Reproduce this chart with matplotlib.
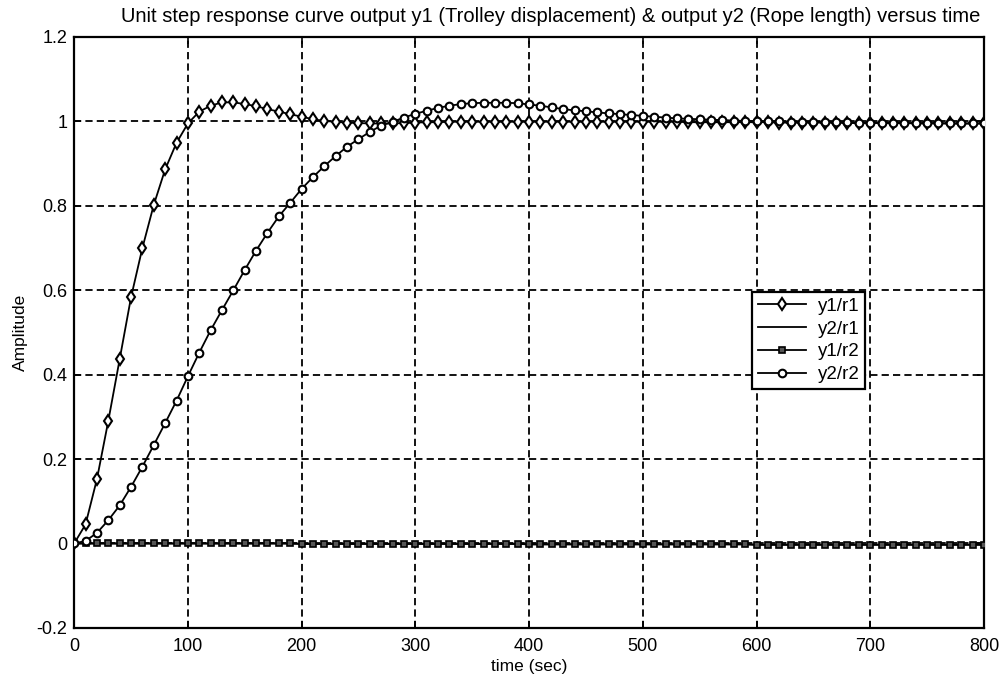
import numpy as np
import matplotlib
matplotlib.use("Agg")
import matplotlib.pyplot as plt

plt.rcParams['font.family'] = ['Liberation Sans', 'DejaVu Sans']

# time axis (sec), one sample every 10 s
t = np.arange(0, 810, 10)

# y1/r1 : trolley displacement response
y1_r1 = [0.000, 0.045, 0.152, 0.290, 0.436, 0.583, 0.700, 0.802, 0.886, 0.949,
         0.995, 1.023, 1.037, 1.045, 1.045, 1.041, 1.036, 1.029, 1.023, 1.017,
         1.011, 1.005, 1.001, 0.999, 0.997, 0.996, 0.995, 0.995, 0.995, 0.996,
         0.997, 0.998, 0.998, 0.999, 0.999, 0.999, 0.999, 0.999, 0.999, 0.999,
         0.999, 0.999, 0.999, 0.999, 0.999, 0.999, 0.999, 0.999, 0.999, 0.999,
         0.999, 0.999, 0.999, 0.999, 0.998, 0.998, 0.998, 0.998, 0.998, 0.998,
         0.998, 0.998, 0.997, 0.997, 0.997, 0.997, 0.997, 0.997, 0.996, 0.996,
         0.996, 0.996, 0.996, 0.996, 0.995, 0.995, 0.995, 0.995, 0.995, 0.995,
         0.995]

# y2/r1 : rope length due to trolley input (cross coupling)
y2_r1 = [0.000, 0.000, 0.000, 0.000, 0.000, 0.000, 0.000, 0.000, 0.000, 0.000,
         0.000, 0.000, 0.000, 0.000, 0.000, 0.000, 0.000, 0.000, 0.000, 0.000,
         -0.001, -0.001, -0.001, -0.001, -0.001, -0.001, -0.001, -0.001, -0.001, -0.001,
         -0.001, -0.001, -0.001, -0.001, -0.001, -0.001, -0.001, -0.001, -0.001, -0.001,
         -0.002, -0.002, -0.002, -0.002, -0.002, -0.002, -0.002, -0.002, -0.002, -0.002,
         -0.002, -0.002, -0.002, -0.002, -0.002, -0.002, -0.002, -0.002, -0.002, -0.002,
         -0.003, -0.003, -0.003, -0.003, -0.003, -0.003, -0.003, -0.003, -0.003, -0.003,
         -0.003, -0.003, -0.003, -0.003, -0.003, -0.003, -0.003, -0.003, -0.003, -0.003,
         -0.003]

# y1/r2 : trolley displacement due to rope input (cross coupling)
y1_r2 = [0.000, 0.000, 0.000, 0.000, 0.000, 0.000, 0.000, 0.000, 0.000, 0.000,
         0.000, 0.000, 0.000, 0.000, 0.000, 0.000, 0.000, 0.000, 0.000, 0.000,
         -0.001, -0.001, -0.001, -0.001, -0.001, -0.001, -0.001, -0.001, -0.001, -0.001,
         -0.001, -0.001, -0.001, -0.001, -0.001, -0.001, -0.001, -0.001, -0.001, -0.001,
         -0.002, -0.002, -0.002, -0.002, -0.002, -0.002, -0.002, -0.002, -0.002, -0.002,
         -0.002, -0.002, -0.002, -0.002, -0.002, -0.002, -0.002, -0.002, -0.002, -0.002,
         -0.003, -0.003, -0.003, -0.003, -0.003, -0.003, -0.003, -0.003, -0.003, -0.003,
         -0.003, -0.003, -0.003, -0.003, -0.003, -0.003, -0.003, -0.003, -0.003, -0.003,
         -0.003]

# y2/r2 : rope length response
y2_r2 = [0.000, 0.006, 0.025, 0.055, 0.090, 0.134, 0.182, 0.233, 0.285, 0.338,
         0.396, 0.452, 0.505, 0.553, 0.600, 0.648, 0.694, 0.736, 0.775, 0.807,
         0.840, 0.868, 0.894, 0.918, 0.940, 0.958, 0.975, 0.990, 0.999, 1.009,
         1.018, 1.025, 1.032, 1.037, 1.041, 1.043, 1.044, 1.044, 1.044, 1.043,
         1.040, 1.037, 1.033, 1.029, 1.026, 1.024, 1.021, 1.019, 1.017, 1.015,
         1.013, 1.011, 1.009, 1.007, 1.006, 1.005, 1.004, 1.003, 1.002, 1.001,
         1.001, 1.000, 1.000, 0.999, 0.999, 0.999, 0.998, 0.998, 0.998, 0.997,
         0.997, 0.997, 0.997, 0.996, 0.996, 0.996, 0.996, 0.995, 0.995, 0.995,
         0.995]

xticks = [0, 100, 200, 300, 400, 500, 600, 700, 800]
yticks = [-0.2, 0, 0.2, 0.4, 0.6, 0.8, 1, 1.2]
yticklabels = ['-0.2', '0', '0.2', '0.4', '0.6', '0.8', '1', '1.2']

fig = plt.figure(figsize=(10.02, 6.84), dpi=100)
ax = fig.add_axes([0.074, 0.082, 0.908, 0.864])

ax.plot(t, y1_r1, color='black', lw=1.3, marker='d', ms=6.5, mfc='white',
        mec='black', mew=1.5, label='y1/r1', zorder=4)
ax.plot(t, y2_r1, color='black', lw=1.3, label='y2/r1', zorder=3)
ax.plot(t, y1_r2, color='black', lw=1.3, marker='s', ms=4.5, mfc='#555555',
        mec='black', mew=1.2, label='y1/r2', zorder=3)
ax.plot(t, y2_r2, color='black', lw=1.3, marker='o', ms=5.5, mfc='white',
        mec='black', mew=1.5, label='y2/r2', zorder=4)

ax.set_xlim(0, 800)
ax.set_ylim(-0.2, 1.2)
ax.set_xticks(xticks)
ax.set_yticks(yticks)
ax.set_yticklabels(yticklabels)
ax.grid(True, color='black', linestyle=(0, (4, 2.3)), linewidth=1.3)
ax.tick_params(direction='in', top=True, right=True, length=5, width=1.2,
               labelsize=13)
ax.tick_params(axis='x', pad=7)
ax.tick_params(axis='y', pad=5)
for s in ax.spines.values():
    s.set_linewidth(1.6)

ax.set_title('Unit step response curve output y1 (Trolley displacement) & output y2 (Rope length) versus time',
             fontsize=14.5, pad=11, x=0.524)
ax.set_xlabel('time (sec)', fontsize=12.5, labelpad=3)
ax.set_ylabel('Amplitude', fontsize=12.5, labelpad=6)

leg = ax.legend(loc='upper left', bbox_to_anchor=(0.745, 0.568), fontsize=13.5,
                frameon=True, fancybox=False, edgecolor='black', framealpha=1,
                handlelength=2.6, borderpad=0.3, labelspacing=0.3, numpoints=1,
                handletextpad=0.6, borderaxespad=0)
leg.get_frame().set_linewidth(1.6)

fig.savefig('out.png', dpi=100)
